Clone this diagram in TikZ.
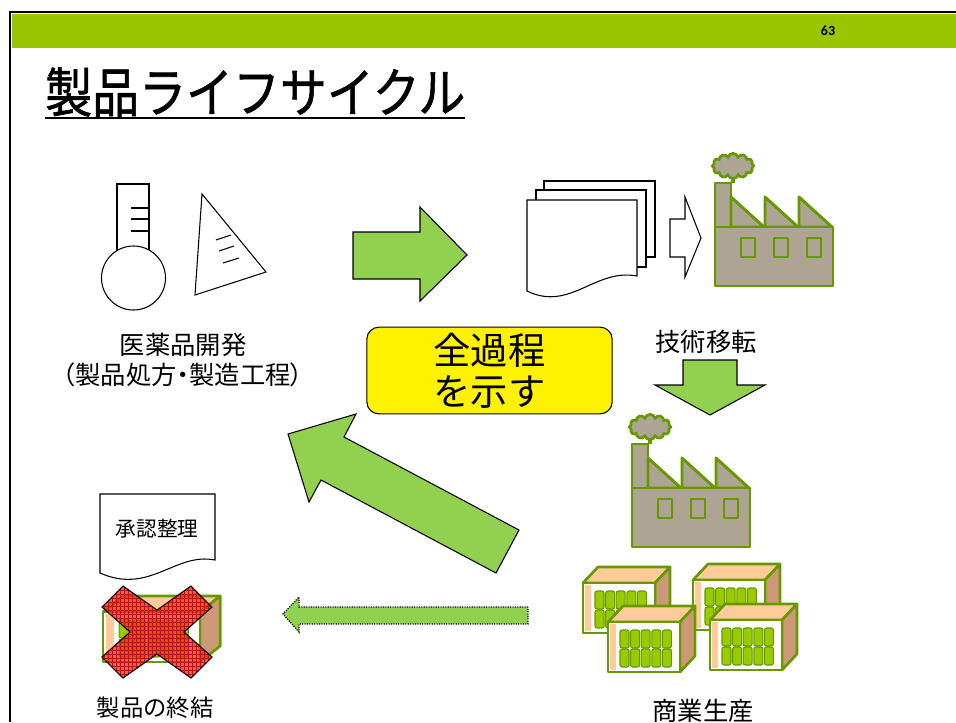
\documentclass[tikz,border=0pt]{standalone}
\usepackage{fontspec}
\setmainfont{Carlito}
\newfontfamily\jp{Noto Sans CJK JP}
\newfontfamily\jptitle{Noto Sans CJK JP}[FakeBold=1.2]
\usetikzlibrary{shapes.symbols,patterns}

\definecolor{bargreen}{HTML}{99C600}
\definecolor{arrowgreen}{HTML}{92D050}
\definecolor{factoryline}{HTML}{669900}
\definecolor{factorygray}{HTML}{ADA494}
\definecolor{peach}{HTML}{FFCC99}
\definecolor{boxside}{HTML}{CC9977}
\definecolor{cellgreen}{HTML}{99CC00}
\definecolor{xred}{HTML}{FF2020}

\tikzset{
  blockarrow/.style={fill=arrowgreen, draw=black, line width=0.8pt},
  factory/.style={fill=factorygray, draw=factoryline, line width=2.2pt, line join=round},
  smoke/.style={cloud, cloud puffs=12, aspect=1.7, fill=factorygray, draw=factoryline,
    line width=2pt, minimum width=31pt, minimum height=19pt, inner sep=0pt},
  boxline/.style={draw=factoryline, line width=2pt, line join=round},
  cell/.style={fill=cellgreen, draw=factoryline, line width=0.8pt, rounded corners=1.5pt},
  paper/.style={fill=white, draw=black, line width=0.8pt},
  crossmark/.style={draw=black, line width=0.8pt, preaction={fill=xred, fill opacity=0.75},
    pattern=grid, pattern color=xred!70!black},
  label/.style={font=\jp\fontsize{19}{20}\selectfont, inner sep=0pt, align=center},
}

%% factory with chimney and smoke, #1,#2 = bottom left corner
\newcommand\factory[3]{%
  \begin{scope}[shift={(#1,#2)}]
    \draw[factoryline, line width=3pt] (18,-103) -- (18,-110);
    \node[smoke] (#3) at (18,-120) {};
    \draw[factory] (0,-59) rectangle (16,-103);
    \foreach \a in {16,50,84}
      \draw[factory] (\a,-59) -- (\a,-89) -- ++(33,30) -- cycle;
    \draw[factory] (0,0) rectangle (118,-59);
    \foreach \a in {26,59,92}
      \draw[factory] (\a,-29) rectangle ++(14,-19);
  \end{scope}}

%% storage box, #1,#2 = front bottom left corner, #3 = front width
\newcommand\building[3]{%
  \begin{scope}[shift={(#1,#2)}, xscale=#3/72]
    \draw[boxline, fill=peach] (0,-50) -- (15,-66) -- (87,-66) -- (72,-50) -- cycle;
    \draw[boxline, fill=boxside] (72,0) -- (72,-50) -- (87,-66) -- (87,-16) -- cycle;
    \draw[boxline, fill=white] (0,0) rectangle (72,-50);
    \fill[peach] (2,-2) rectangle (8,-48);
    \foreach \c in {0,...,4}
      \foreach \r in {0,1}
        \draw[cell] (12+\c*10.6,-5-\r*19) rectangle ++(9,-18);
  \end{scope}}

\begin{document}
\begin{tikzpicture}[x=0.75pt,y=-0.75pt]
  \useasboundingbox[fill=white] (0,0) rectangle (956,722);

  %% slide frame and header bar
  \fill[bargreen] (12,14) rectangle (956,48);
  \draw[line width=1.5pt] (10,722) -- (10,12) -- (956,12);
  \node[font=\bfseries\fontsize{10.5}{11}\selectfont, inner sep=0pt] (pagenum) at (828,31) {63};

  %% title
  \node[anchor=west, inner sep=0pt, font=\jptitle\fontsize{40}{40}\selectfont] (title) at (45,92)
    {\scalebox{0.88}[1]{製品ライフサイクル}};
  \draw[line width=2.2pt] (45,118) -- (465,118);

  %% thermometer and flask
  \draw[paper] (117,184) rectangle (149,250);
  \draw[paper] (133.5,278) circle (32);
  \foreach \y in {208,219,231}
    \draw[line width=0.8pt] (131,\y) -- (148,\y);
  \draw[paper] (202,194) -- (266,272) -- (195,295) -- cycle;
  \draw[line width=0.8pt] (216,240) -- (231,235);
  \draw[line width=0.8pt] (219,251) -- (234,246);
  \draw[line width=0.8pt] (223,263) -- (239,258);
  \node[label] (devlabel) at (183,360)
    {医薬品開発\\[2pt]{\addfontfeature{RawFeature=+palt}（製品処方・製造工程）}};

  %% arrow to the documents
  \draw[blockarrow] (353,232) -- (420,232) -- (420,207) -- (467,255) -- (420,301)
    -- (420,279) -- (353,279) -- cycle;

  %% stacked documents
  \draw[paper] (544,181) rectangle (655,257);
  \draw[paper] (536,190) rectangle (646,267);
  \draw[paper] (527,200) -- (637,200) -- (637,276)
    .. controls (595,268) and (570,312) .. (527,291) -- cycle;
  \draw[paper] (670,219) -- (685,219) -- (685,197) -- (701,238) -- (685,277)
    -- (685,257) -- (670,257) -- cycle;

  %% factories
  \factory{715}{286}{smokeA}
  \node[label] (transferlabel) at (706,342) {技術移転};
  \draw[blockarrow] (683,360) -- (737,360) -- (737,385) -- (765,385) -- (710,415)
    -- (655,385) -- (683,385) -- cycle;
  \factory{632}{547}{smokeB}

  %% summary box
  \node[fill=yellow, draw=black, line width=0.8pt, rounded corners=9pt,
    minimum width=184pt, minimum height=65pt, align=center,
    font=\jp\fontsize{28}{31}\selectfont] (summary) at (489.5,370.5) {全過程\\を示す};

  %% commercial production
  \building{583}{633}{72}
  \building{693}{630}{72}
  \building{608}{672}{72}
  \building{710}{670}{72}
  \node[label] (prodlabel) at (703,711) {商業生産};

  %% big return arrow
  \draw[blockarrow] (519,530) -- (344,437) -- (356,414) -- (288,434) -- (309,502)
    -- (321,480) -- (496,573) -- cycle;

  %% dotted arrow to the end of life
  \draw[blockarrow, densely dotted, line width=1pt] (528,607) -- (299,607) -- (299,597)
    -- (283,614) -- (299,632) -- (299,624) -- (528,624) -- cycle;

  %% approval document and discontinued product
  \draw[paper] (100,494) -- (215,494) -- (215,560)
    .. controls (175,552) and (150,595) .. (100,573) -- cycle;
  \node[label, font=\jp\fontsize{15.5}{16}\selectfont] (approval) at (157,529) {承認整理};
  \building{103}{662}{97}
  \draw[crossmark] (123,586) -- (157,610) -- (191,586) -- (212,607) -- (184,632)
    -- (212,657) -- (191,678) -- (157,654) -- (123,678) -- (102,657) -- (130,632)
    -- (102,607) -- cycle;
  \node[label, font=\jp\fontsize{17.5}{18}\selectfont] (endlabel) at (155,708) {製品の終結};
\end{tikzpicture}
\end{document}
